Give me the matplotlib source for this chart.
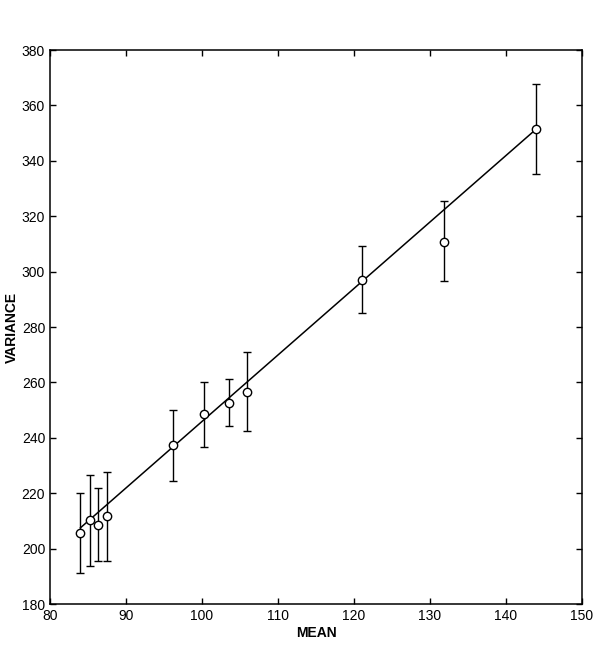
import matplotlib.pyplot as plt
import numpy as np

plt.rcParams["font.family"] = ["Liberation Sans", "DejaVu Sans"]

# data
means = [84.0, 85.3, 86.3, 87.5, 96.2, 100.3, 103.5, 105.9, 121.0, 131.9, 144.0]
variances = [205.5, 210.3, 208.4, 211.8, 237.4, 248.5, 252.7, 256.7, 297.0, 310.8, 351.5]
upper = [220.0, 226.6, 221.8, 227.8, 250.0, 260.3, 261.1, 270.9, 309.4, 325.6, 367.7]
lower = [191.3, 193.8, 195.6, 195.6, 224.5, 236.6, 244.4, 242.6, 284.9, 296.6, 335.2]

# fitted line end points
fit_x = [84.0, 144.0]
fit_y = [207.5, 351.5]

x_ticks = [80, 90, 100, 110, 120, 130, 140, 150]
y_ticks = [180, 200, 220, 240, 260, 280, 300, 320, 340, 360, 380]

fig = plt.figure(figsize=(5.99, 6.52), dpi=100)
ax = fig.add_axes([0.0835, 0.0736, 0.888, 0.8497])

means = np.array(means)
variances = np.array(variances)
yerr = [variances - np.array(lower), np.array(upper) - variances]

ax.plot(fit_x, fit_y, color="black", lw=1.1)
ax.errorbar(means, variances, yerr=yerr, fmt="o", mfc="white", mec="black",
            ms=6, mew=1.0, ecolor="black", elinewidth=1.0, capsize=3, capthick=1.0)

ax.set_xlim(80, 150)
ax.set_ylim(180, 380)
ax.set_xticks(x_ticks)
ax.set_yticks(y_ticks)
ax.tick_params(direction="in", length=4, width=1, top=True, right=True,
               labelsize=10)
for s in ax.spines.values():
    s.set_linewidth(1.1)

ax.set_xlabel("MEAN", fontsize=10, fontweight="bold", labelpad=2)
ax.set_ylabel("VARIANCE", fontsize=10, fontweight="bold", labelpad=2)

fig.savefig("out.png", dpi=100)
